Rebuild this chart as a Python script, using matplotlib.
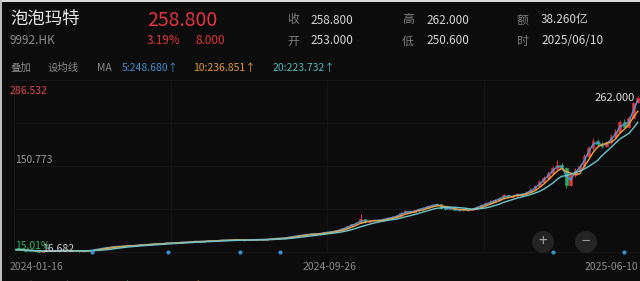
import matplotlib
matplotlib.use("Agg")
import matplotlib.pyplot as plt
import pandas as pd
from matplotlib.patches import Ellipse, Rectangle

plt.rcParams['font.family'] = ['Noto Sans CJK SC', 'DejaVu Sans']

# ---------------- data (each candle ~ 2.5 trading days) ----------------
opens = [21.0, 20.5, 19.9, 19.0, 18.4, 17.9, 17.4, 17.8, 18.5, 18.1,
         18.9, 19.6, 19.2, 18.6, 18.0, 17.6, 17.9, 19.0, 20.3, 21.5,
         22.8, 23.6, 24.5, 25.8, 25.2, 26.4, 27.0, 26.5, 27.8, 28.6,
         28.1, 29.4, 30.0, 29.6, 30.5, 31.2, 30.8, 31.6, 32.4, 32.0,
         33.1, 33.6, 33.0, 33.8, 34.5, 34.0, 34.9, 35.6, 35.1, 35.8,
         36.2, 35.6, 35.0, 35.4, 36.0, 36.6, 36.1, 36.8, 37.5, 38.4,
         38.0, 39.2, 40.5, 41.8, 42.6, 43.5, 44.5, 45.5, 45.0, 46.5,
         47.5, 48.6, 49.5, 51.5, 54.0, 57.0, 60.0, 62.5, 68.0, 64.0,
         65.5, 67.0, 66.0, 68.5, 70.0, 71.5, 74.0, 78.0, 80.5, 79.0,
         82.0, 84.5, 86.0, 88.5, 90.5, 92.0, 86.5, 84.0, 85.5, 83.0,
         82.0, 83.5, 82.5, 85.0, 88.0, 90.5, 93.0, 96.0, 98.5, 101.0,
         106.0, 103.0, 105.5, 108.0, 106.5, 111.0, 114.5, 120.0, 127.0, 133.0,
         141.0, 148.0, 154.0, 149.0, 122.0, 138.0, 146.0, 152.0, 168.0, 180.0,
         192.0, 186.0, 184.0, 189.0, 198.0, 206.0, 221.0, 214.0, 228.0, 253.0]
closes = [20.5, 19.8, 19.0, 18.3, 17.9, 17.4, 17.8, 18.5, 18.1, 18.9,
          19.6, 19.2, 18.6, 18.0, 17.6, 17.9, 19.0, 20.3, 21.5, 22.8,
          23.6, 24.5, 25.8, 25.2, 26.4, 27.0, 26.5, 27.8, 28.6, 28.1,
          29.4, 30.0, 29.6, 30.5, 31.2, 30.8, 31.6, 32.4, 32.0, 33.1,
          33.6, 33.0, 33.8, 34.5, 34.0, 34.9, 35.6, 35.1, 35.8, 36.2,
          35.6, 35.0, 35.4, 36.0, 36.6, 36.1, 36.8, 37.5, 38.4, 38.0,
          39.2, 40.5, 41.8, 42.6, 43.5, 44.5, 45.5, 45.0, 46.5, 47.5,
          48.6, 49.5, 51.5, 54.0, 57.0, 60.0, 62.5, 68.0, 64.0, 65.5,
          67.0, 66.0, 68.5, 70.0, 71.5, 74.0, 78.0, 80.5, 79.0, 82.0,
          84.5, 86.0, 88.5, 90.5, 92.0, 86.5, 84.0, 85.5, 83.0, 82.0,
          83.5, 82.5, 85.0, 88.0, 90.5, 93.0, 96.0, 98.5, 101.0, 106.0,
          103.0, 105.5, 108.0, 106.5, 111.0, 114.5, 120.0, 127.0, 133.0, 141.0,
          148.0, 154.0, 149.0, 122.0, 138.0, 146.0, 152.0, 168.0, 180.0, 192.0,
          186.0, 184.0, 189.0, 198.0, 206.0, 221.0, 214.0, 228.0, 250.8, 258.8]
highs = [21.4, 20.8, 20.1, 19.2, 18.7, 18.1, 18.0, 18.7, 18.8, 19.1,
         19.9, 19.8, 19.4, 18.8, 18.1, 18.2, 19.3, 20.6, 21.9, 23.2,
         24.1, 24.9, 26.3, 26.1, 26.8, 27.5, 27.3, 28.1, 29.0, 28.9,
         29.7, 30.4, 30.3, 30.8, 31.6, 31.5, 31.9, 32.8, 32.7, 33.4,
         34.0, 33.8, 34.1, 34.9, 34.7, 35.2, 36.0, 35.8, 36.1, 36.6,
         36.4, 35.8, 35.7, 36.3, 37.0, 36.8, 37.1, 37.9, 38.8, 38.7,
         39.6, 41.2, 42.4, 43.3, 44.1, 45.0, 46.1, 45.9, 46.9, 48.0,
         49.2, 50.3, 52.2, 54.8, 57.9, 61.2, 63.8, 76.0, 68.8, 66.8,
         68.2, 67.8, 69.4, 71.2, 72.9, 75.3, 79.5, 82.0, 81.6, 83.4,
         85.9, 87.6, 90.1, 92.4, 94.0, 92.6, 87.3, 86.8, 86.0, 84.1,
         84.6, 84.3, 86.2, 89.3, 92.0, 94.6, 97.8, 100.4, 103.2, 108.5,
         107.1, 107.0, 110.2, 109.3, 112.8, 116.6, 122.4, 129.5, 136.2, 144.0,
         151.6, 161.0, 156.2, 150.4, 140.5, 148.7, 155.5, 171.4, 183.6, 196.0,
         194.5, 189.2, 191.8, 201.5, 209.8, 224.3, 225.6, 231.2, 253.0, 262.0]
lows = [20.2, 19.5, 18.8, 18.0, 17.6, 17.1, 17.2, 17.6, 17.9, 18.0,
        18.7, 18.9, 18.3, 17.7, 16.682, 17.3, 17.8, 18.9, 20.1, 21.3,
        22.5, 23.3, 24.3, 24.9, 25.0, 26.1, 26.2, 26.4, 27.5, 27.8,
        28.0, 29.1, 29.3, 29.4, 30.3, 30.5, 30.6, 31.4, 31.7, 31.9,
        32.8, 32.7, 32.8, 33.6, 33.7, 33.8, 34.7, 34.8, 34.9, 35.5,
        35.3, 34.7, 34.8, 35.2, 35.8, 35.8, 35.9, 36.6, 37.3, 37.7,
        37.9, 39.0, 40.2, 41.5, 42.3, 43.2, 44.2, 44.6, 44.8, 46.2,
        47.2, 48.2, 49.2, 51.0, 53.5, 56.4, 59.2, 62.0, 63.0, 63.2,
        64.8, 65.1, 65.6, 67.8, 69.2, 70.8, 73.2, 77.0, 78.0, 78.4,
        81.2, 83.5, 85.2, 87.6, 89.5, 85.0, 82.6, 83.2, 82.1, 80.6,
        81.2, 81.5, 82.0, 84.4, 87.3, 89.8, 92.1, 95.0, 97.6, 100.2,
        101.8, 102.0, 104.6, 105.0, 105.8, 109.9, 113.6, 118.8, 125.4, 131.5,
        139.2, 145.5, 146.0, 117.0, 120.6, 135.2, 143.6, 150.8, 165.2, 177.4,
        183.0, 180.6, 182.2, 186.4, 195.2, 203.5, 211.0, 212.4, 226.0, 250.6]
ma_windows = [2, 4, 8]          # in candles, stand-ins for MA5 / MA10 / MA20
ma_colors = ['#4b98d8', '#eba23c', '#6cc6cf']
date_labels = ['2024-01-16', '2024-09-26', '2025-06-10']
date_index = [0, 70, 139]
event_index = [17, 34, 50, 59, 120, 136]
y_labels = [286.532, 150.773, 16.682]

BG = '#0c0c0c'
UP = '#e3343d'
DOWN = '#22b162'
W, H = 640, 281
N = len(closes)

fig = plt.figure(figsize=(W / 100, H / 100), dpi=100)
fig.patch.set_facecolor(BG)


def fx(x):
    return x / W


def fy(y):
    return 1 - y / H


def ftext(x, y, s, size, color, ha='left', **kw):
    fig.text(fx(x), fy(y), s, fontsize=size, color=color, ha=ha, va='center', **kw)


# chart axes
top_px, bot_px = 80.4, 252.0
ax = fig.add_axes([fx(14), fy(bot_px), (W - 14) / W, (bot_px - top_px) / H])
ax.set_facecolor('none')
ax.set_xlim(-0.5, N - 0.5)
ymin, ymax = y_labels[2], y_labels[0]
ax.set_ylim(ymin, ymax)
ax.axis('off')

# faint grid
for k in range(5):
    yv = ymin + k * (ymax - ymin) / 4
    ax.axhline(yv, color='#161616', lw=0.8, zorder=0, clip_on=False)
    xv = -0.5 + k * N / 4
    ax.axvline(xv, color='#161616', lw=0.8, zorder=0, clip_on=False)

# candles
xs = list(range(N))
cols = [UP if c >= o else DOWN for o, c in zip(opens, closes)]
ax.vlines(xs, lows, highs, colors=cols, lw=0.7, zorder=2, clip_on=False)
bottoms = [min(o, c) for o, c in zip(opens, closes)]
heights = [abs(c - o) for o, c in zip(opens, closes)]
ax.bar(xs, heights, bottom=bottoms, width=0.62, color=cols, edgecolor=cols,
       linewidth=0.4, zorder=3, clip_on=False)

# moving averages
s = pd.Series(closes)
for w, c in zip(ma_windows, ma_colors):
    ax.plot(xs, s.rolling(w, min_periods=1).mean(), color=c, lw=1.0, zorder=4,
            clip_on=False)

# top/left light border
fig.add_artist(Rectangle((0, fy(1.5)), 1, 1.5 / H, transform=fig.transFigure,
                         color='#d9d9d9', lw=0))
fig.add_artist(Rectangle((0, 0), 1.5 / W, 1, transform=fig.transFigure,
                         color='#bdbdbd', lw=0))

# header
ftext(10, 19, '泡泡玛特', 12.5, '#e8e8e8')
ftext(10, 41, '9992.HK', 8.5, '#8c8c8c')
ftext(147, 20, '258.800', 14, UP)
ftext(147, 41, '3.19%', 8.5, UP)
ftext(195, 41, '8.000', 8.5, UP)
for lx, vx, rows in [(287, 310, [('收', '258.800'), ('开', '253.000')]),
                     (402, 426, [('高', '262.000'), ('低', '250.600')]),
                     (517, 541, [('额', '38.260亿'), ('时', '2025/06/10')])]:
    for (lab, val), yy in zip(rows, [20, 41]):
        ftext(lx, yy, lab, 8.5, '#7d7d7d')
        ftext(vx, yy, val, 8.5, '#d6d6d6')

# MA legend row
ftext(10, 68, '叠加', 7.5, '#8a8a8a')
ftext(48, 68, '设均线', 7.5, '#8a8a8a')
ftext(97, 68, 'MA', 7.5, '#8a8a8a')
ftext(122, 68, '5:248.680↑', 7.5, '#3f8fd0')
ftext(193, 68, '10:236.851↑', 7.5, '#e69a35')
ftext(273, 68, '20:223.732↑', 7.5, '#52b9bd')

# axis value labels
ftext(10, 91, f'{y_labels[0]:.3f}', 7.5, '#e0464d')
ftext(15, 160, f'{y_labels[1]:.3f}', 7.5, '#9a9a9a')
ftext(15, 246, '15.01%', 7.5, '#2bb35f')
ftext(42, 249, f'{y_labels[2]:.3f}', 7.5, '#d0d0d0')
ftext(635, 98, '262.000', 8, '#dcdcdc', ha='right')

# dates
for lab, idx, ha in zip(date_labels, date_index, ['left', 'center', 'right']):
    xpx = 14 + (idx + 0.5) * (W - 14) / N
    if ha == 'left':
        xpx = 10
    if ha == 'right':
        xpx = 638
    ftext(xpx, 267, lab, 7.5, '#8a8a8a', ha=ha)

# event dots
ax.scatter(event_index, [ymin - 0.2] * len(event_index), s=4, color='#3a8fd0',
           zorder=5, clip_on=False)

# zoom buttons
for cx, sym in [(543, '+'), (586, '−')]:
    fig.add_artist(Ellipse((fx(cx), fy(242)), 22 / W, 22 / H,
                           transform=fig.transFigure, color='#242424', lw=0))
    ftext(cx, 241.5, sym, 11, '#a0a0a0', ha='center')

# clipped bottom indicator row (only the top of the glyphs is visible)
ftext(10, 286, 'VOL(5,10,20)', 7.5, '#6f6f6f')
ftext(75, 286, 'MA5:37.54亿', 7.5, '#2f9a5a')
ftext(140, 286, 'MA10:30.21亿', 7.5, '#d08a30')

fig.savefig('out.png', dpi=100, facecolor=BG)
